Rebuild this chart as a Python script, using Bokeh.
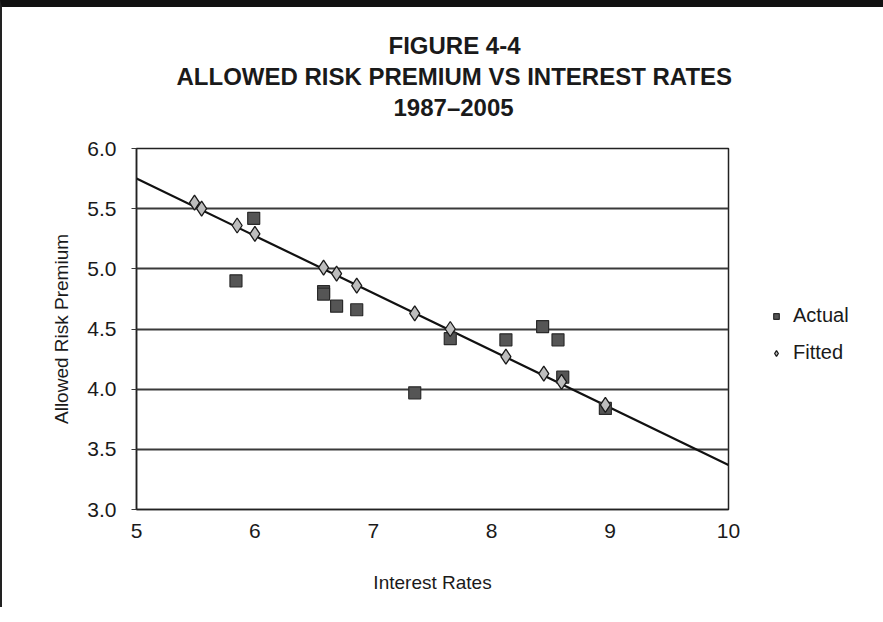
from bokeh.plotting import figure
from bokeh.models import Title, Legend, LegendItem, ColumnDataSource, Range1d, FixedTicker, CustomJSTickFormatter
from bokeh.embed import file_html
from bokeh.resources import INLINE

# ---- data ----
actual_x = [5.99, 5.84, 6.58, 6.58, 6.69, 6.86, 7.35, 7.65, 8.12, 8.43, 8.56, 8.60, 8.96]
actual_y = [5.42, 4.90, 4.81, 4.79, 4.69, 4.66, 3.97, 4.42, 4.41, 4.52, 4.41, 4.10, 3.84]

fitted_x = [5.49, 5.55, 5.85, 6.00, 6.58, 6.69, 6.86, 7.35, 7.65, 8.12, 8.44, 8.59, 8.96]
fitted_y = [5.55, 5.50, 5.36, 5.29, 5.01, 4.96, 4.86, 4.63, 4.50, 4.27, 4.13, 4.06, 3.87]

trend_x = [5.0, 10.0]
trend_y = [5.75, 3.37]

x_ticks = [5, 6, 7, 8, 9, 10]
y_ticks = [3.0, 3.5, 4.0, 4.5, 5.0, 5.5, 6.0]

title_lines = ["1987\u20132005", "ALLOWED RISK PREMIUM VS INTEREST RATES", "FIGURE 4-4"]

FONT = "Liberation Sans"

p = figure(frame_width=592, frame_height=361, output_backend="svg", toolbar_location=None,
           x_range=Range1d(5, 10), y_range=Range1d(3, 6),
           min_border_left=134, min_border_right=137, min_border_top=141, min_border_bottom=98)
p.styles = {"border-top": "7px solid #111", "border-left": "2px solid #222"}

# spacer between frame and the title block, then titles (added bottom-up)
p.add_layout(Title(text=" ", text_font=FONT, text_font_size="22px", standoff=0), "above")
title_offsets = [257, 40, 252]
for txt, off in zip(title_lines, title_offsets):
    t = Title(text=txt, align="left", text_font=FONT, text_font_size="24px",
              text_font_style="bold", text_color="#1a1a1a", offset=off, standoff=2)
    p.add_layout(t, "above")

p.outline_line_color = "#222222"
p.outline_line_width = 1.5
p.background_fill_color = "white"
p.border_fill_color = "white"

p.xgrid.grid_line_color = None
p.ygrid.grid_line_color = "#3a3a3a"
p.ygrid.grid_line_width = 1.8

p.xaxis.ticker = FixedTicker(ticks=x_ticks)
p.yaxis.ticker = FixedTicker(ticks=y_ticks)
p.yaxis.formatter = CustomJSTickFormatter(code="return tick.toFixed(1);")

for ax in (p.xaxis, p.yaxis):
    ax.major_label_text_font = FONT
    ax.major_label_text_font_size = "21px"
    ax.major_label_text_color = "#1a1a1a"
    ax.axis_label_text_font = FONT
    ax.axis_label_text_font_size = "19px"
    ax.axis_label_text_font_style = "normal"
    ax.axis_label_text_color = "#1a1a1a"
    ax.minor_tick_line_color = None
    ax.axis_line_color = "#222222"
    ax.axis_line_width = 1.5

p.xaxis.major_tick_line_color = None
p.xaxis.major_label_standoff = 8
p.xaxis.axis_label = "Interest Rates"
p.xaxis.axis_label_standoff = 31

p.yaxis.major_tick_out = 5
p.yaxis.major_tick_in = 0
p.yaxis.major_tick_line_color = "#3a3a3a"
p.yaxis.major_label_standoff = 15
p.yaxis.axis_label = "Allowed Risk Premium"
p.yaxis.axis_label_standoff = 12

# trend line
p.line(trend_x, trend_y, line_color="#111111", line_width=2.2)

src_a = ColumnDataSource(data=dict(x=actual_x, y=actual_y))
src_f = ColumnDataSource(data=dict(x=fitted_x, y=fitted_y))

r_a = p.scatter("x", "y", source=src_a, marker="square", size=12,
                fill_color="#555555", line_color="#2a2a2a", line_width=1.2)
r_f = p.scatter("x", "y", source=src_f, marker="diamond", size=15,
                fill_color="#bdbdbd", line_color="#1a1a1a", line_width=1.3)

legend = Legend(items=[LegendItem(label="Actual", renderers=[r_a]),
                       LegendItem(label="Fitted", renderers=[r_f])],
                location=(41, 145), padding=6, spacing=14, margin=0,
                glyph_width=14, glyph_height=20, label_height=20,
                label_standoff=10, border_line_color=None,
                background_fill_alpha=0,
                label_text_font=FONT, label_text_font_size="20px",
                label_text_color="#1a1a1a")
p.add_layout(legend, "right")

open("out.html", "w").write(file_html(p, INLINE))
